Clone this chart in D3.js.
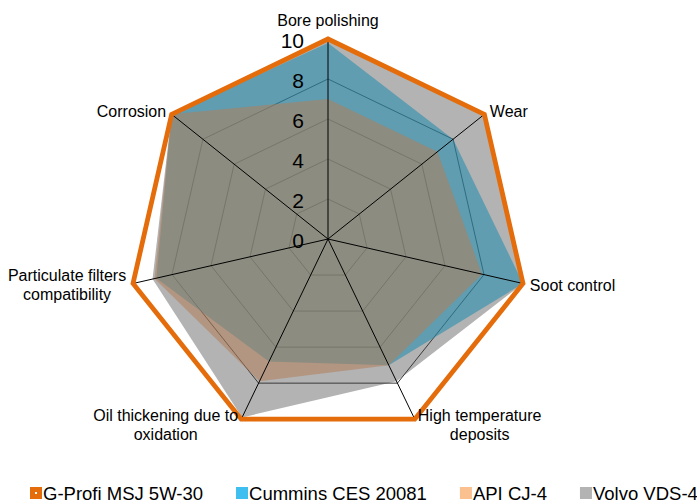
<!DOCTYPE html>
<html>
<head>
<meta charset="utf-8">
<script src="https://cdn.jsdelivr.net/npm/d3@7"></script>
<style>
  html, body { margin: 0; padding: 0; background: #fff; }
  svg { display: block; font-family: "Liberation Sans", Arial, sans-serif; }
</style>
</head>
<body>
<svg id="chart" width="697" height="503"></svg>
<script>
// ---- data ----
const categories = [
  ["Bore polishing"],
  ["Wear"],
  ["Soot control"],
  ["High temperature", "deposits"],
  ["Oil thickening due to", "oxidation"],
  ["Particulate filters", "compatibility"],
  ["Corrosion"]
];
const seriesNames = ["G-Profi MSJ 5W-30", "Cummins CES 20081", "API CJ-4", "Volvo VDS-4"];
const gProfi  = [10, 10, 10, 10, 10, 10, 10];
const cummins = [9.8, 8, 10, 7, 6.8, 8.8, 10];
const apiCJ4  = [7, 7, 7.9, 7, 7.9, 8.9, 10];
const volvo   = [10, 10, 10, 7.9, 9.9, 9, 10];
const tickValues = [0, 2, 4, 6, 8, 10];
const legendColors = ["#e46c0a", "#3fbfef", "#fac090", "#b3b3b3"];

// ---- layout ----
const svg = d3.select("#chart");
const cx = 328, cy = 239, R = 200;
const n = categories.length;
const r = d3.scaleLinear().domain([0, 10]).range([0, R]);
const ang = d3.scaleLinear().domain([0, n]).range([0, 2 * Math.PI]);
const radial = d3.lineRadial()
  .angle((d, i) => ang(i))
  .radius(d => r(d))
  .curve(d3.curveLinearClosed);

const g = svg.append("g").attr("transform", `translate(${cx},${cy})`);

// Volvo (base fill)
g.append("path").attr("d", radial(volvo)).attr("fill", "#b3b3b3");

// ring grid
tickValues.filter(t => t > 0).forEach(t => {
  g.append("path")
    .attr("d", radial(d3.range(n).map(() => t)))
    .attr("fill", "none")
    .attr("stroke", "#3a3a3a")
    .attr("stroke-width", 1);
});

// Cummins
g.append("path").attr("d", radial(cummins))
  .attr("fill", "rgb(41,141,174)").attr("fill-opacity", 0.6);
// API
g.append("path").attr("d", radial(apiCJ4))
  .attr("fill", "rgb(176,126,90)").attr("fill-opacity", 0.55);

// spokes
d3.range(n).forEach(i => {
  const a = ang(i);
  g.append("line")
    .attr("x1", 0).attr("y1", 0)
    .attr("x2", r(10) * Math.sin(a)).attr("y2", -r(10) * Math.cos(a))
    .attr("stroke", "#000").attr("stroke-width", 1);
});

// G-Profi line
g.append("path").attr("d", radial(gProfi))
  .attr("fill", "none").attr("stroke", "#e46c0a")
  .attr("stroke-width", 4.8).attr("stroke-linejoin", "miter");

// tick labels
g.selectAll("text.tick").data(tickValues).enter().append("text")
  .attr("class", "tick")
  .attr("x", -24).attr("y", d => -r(d) + 1)
  .attr("text-anchor", "end")
  .attr("dominant-baseline", "central")
  .attr("font-size", 21)
  .attr("fill", "#000")
  .text(d => d);

// axis labels
const lineH = 19;
categories.forEach((lines, i) => {
  const a = ang(i);
  const s = Math.sin(a), c = Math.cos(a);
  const vx = r(10) * s, vy = -r(10) * c;
  const t = g.append("text").attr("font-size", 16).attr("fill", "#000")
    .attr("text-anchor", "middle");
  lines.forEach((ln, k) => {
    t.append("tspan").attr("x", 0).attr("dy", k === 0 ? 0 : lineH).text(ln);
  });
  let maxW = 0;
  t.selectAll("tspan").each(function() { maxW = Math.max(maxW, this.getComputedTextLength()); });
  let x, yc;
  if (Math.abs(s) < 1e-6) {
    x = vx; yc = vy - 19;
  } else {
    const gap = 7 * Math.abs(s);
    x = s > 0 ? vx + gap + maxW / 2 : vx - gap - maxW / 2;
    yc = vy - c * 6;
  }
  const blockTop = yc - (lines.length - 1) * lineH / 2;
  t.attr("transform", `translate(${x},${blockTop})`)
   .attr("dominant-baseline", "central");
  t.selectAll("tspan").attr("dominant-baseline", "central");
});

// legend
const lg = svg.append("g");
let lx = 30;
const ly = 493;
seriesNames.forEach((name, i) => {
  lg.append("rect").attr("x", lx).attr("y", ly - 6).attr("width", 12).attr("height", 12)
    .attr("fill", legendColors[i]);
  if (i === 0) {
    lg.append("rect").attr("x", lx + 5).attr("y", ly - 1).attr("width", 2).attr("height", 2)
      .attr("fill", "#fff");
  }
  const tx = lg.append("text").attr("x", lx + 13).attr("y", ly)
    .attr("dominant-baseline", "central").attr("font-size", 18.5).attr("fill", "#000")
    .text(name);
  lx = lx + 13 + tx.node().getComputedTextLength() + 33;
});
</script>
</body>
</html>
